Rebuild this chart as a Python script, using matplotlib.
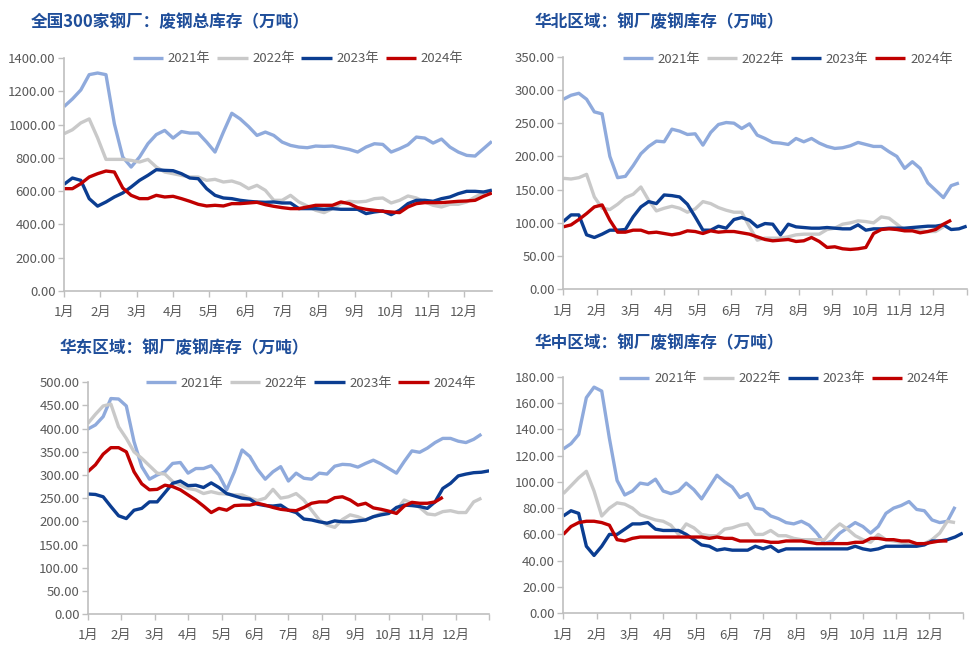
import matplotlib
matplotlib.use("Agg")
import numpy as np
import matplotlib.pyplot as plt

plt.rcParams['font.family'] = ['Noto Sans CJK SC', 'DejaVu Sans']
plt.rcParams['axes.unicode_minus'] = False

months = ['1月', '2月', '3月', '4月', '5月', '6月', '7月', '8月', '9月', '10月', '11月', '12月']
years = ['2021年', '2022年', '2023年', '2024年']

# 全国300家钢厂 废钢总库存 (weekly)
nat_2021 = [1108, 1154, 1208, 1300, 1310, 1300, 1005, 805, 745, 805, 885, 940, 965, 919, 958, 949,
            949, 895, 835, 955, 1068, 1034, 988, 935, 955, 935, 895, 875, 865, 861, 871, 869,
            871, 861, 851, 835, 865, 885, 881, 835, 855, 879, 925, 919, 889, 913, 865, 835,
            815, 811, 855, 899]
nat_2022 = [945, 969, 1010, 1034, 920, 791, 791, 791, 785, 775, 791, 745, 715, 705, 695, 685,
            685, 665, 671, 655, 661, 645, 615, 635, 605, 545, 545, 575, 535, 511, 485, 471,
            495, 525, 539, 535, 539, 555, 559, 529, 545, 571, 559, 535, 515, 505, 521, 521,
            535, 565, 589, 609]
nat_2023 = [641, 679, 665, 555, 510, 535, 565, 589, 625, 665, 695, 729, 725, 723, 705, 679,
            675, 615, 575, 559, 555, 545, 539, 535, 533, 535, 529, 529, 495, 495, 495, 491,
            495, 491, 491, 491, 465, 475, 481, 459, 485, 525, 545, 545, 539, 555, 565, 585,
            599, 599, 595, 605]
nat_2024 = [615, 615, 645, 685, 705, 721, 715, 619, 575, 555, 555, 575, 565, 569, 555, 539,
            521, 511, 515, 511, 525, 525, 529, 533, 519, 509, 501, 495, 495, 505, 515, 515,
            515, 535, 525, 501, 491, 485, 479, 475, 471, 505, 525, 531, 531, 531, 535, 539,
            541, 545, 569, 589]

# 华北区域
nc_2021 = [286, 292, 295, 286, 267, 264, 200, 168, 170, 186, 204, 215, 223, 222, 241, 238,
           233, 234, 217, 236, 248, 251, 250, 242, 249, 232, 227, 221, 220, 218, 227, 222,
           227, 220, 215, 212, 213, 216, 221, 218, 215, 215, 207, 200, 182, 192, 182, 160,
           149, 138, 156, 160]
nc_2022 = [167, 166, 168, 173, 139, 122, 120, 128, 138, 143, 154, 134, 118, 122, 125, 122,
           116, 121, 132, 129, 123, 119, 116, 116, 94, 74, 77, 77, 77, 79, 82, 83,
           83, 83, 90, 92, 98, 100, 103, 102, 100, 109, 107, 98, 89, 89, 88, 87,
           87, 94]
nc_2023 = [102, 112, 112, 82, 78, 83, 89, 89, 90, 109, 124, 132, 129, 142, 141, 139,
           128, 109, 89, 89, 95, 92, 105, 108, 104, 94, 99, 98, 82, 98, 94, 93,
           92, 92, 93, 92, 91, 91, 97, 89, 91, 91, 92, 92, 92, 93, 94, 95,
           95, 97, 90, 91, 95]
nc_2024 = [94, 97, 105, 114, 124, 127, 104, 86, 86, 89, 89, 85, 86, 84, 82, 84,
           88, 87, 84, 88, 86, 87, 87, 85, 83, 79, 75, 73, 74, 75, 72, 73,
           78, 72, 63, 64, 61, 60, 61, 63, 84, 90, 91, 90, 88, 88, 85, 87,
           90, 98, 104]

# 华东区域
ec_2021 = [399, 408, 426, 465, 464, 449, 372, 318, 291, 300, 307, 325, 327, 304, 314, 314,
           320, 300, 268, 307, 354, 340, 312, 291, 307, 318, 287, 304, 293, 291, 304, 302,
           319, 323, 322, 317, 325, 332, 324, 314, 304, 329, 352, 349, 358, 370, 379, 379,
           373, 370, 377, 388]
ec_2022 = [411, 431, 449, 453, 404, 379, 350, 336, 320, 304, 302, 286, 278, 271, 268, 260,
           264, 260, 259, 257, 257, 250, 245, 250, 269, 250, 253, 260, 246, 224, 203, 192,
           187, 204, 214, 210, 203, 210, 217, 219, 224, 246, 239, 230, 216, 214, 221, 223,
           219, 219, 242, 250]
ec_2023 = [259, 258, 253, 232, 212, 206, 224, 228, 242, 242, 262, 282, 287, 277, 278, 273,
           283, 273, 260, 255, 250, 248, 237, 234, 233, 235, 224, 219, 205, 203, 199, 196,
           201, 199, 199, 201, 203, 210, 214, 217, 230, 235, 234, 232, 228, 242, 271, 282,
           298, 302, 305, 306, 309]
ec_2024 = [307, 322, 345, 359, 359, 350, 307, 281, 268, 269, 278, 275, 268, 257, 246, 233,
           219, 228, 224, 234, 235, 235, 239, 235, 230, 226, 224, 223, 230, 239, 242, 242,
           251, 253, 246, 235, 239, 229, 226, 222, 217, 233, 241, 239, 239, 242, 252]

# 华中区域
cc_2021 = [125, 129, 136, 164, 172, 169, 133, 101, 90, 93, 99, 98, 102, 93, 91, 93,
           99, 94, 87, 96, 105, 100, 96, 88, 91, 80, 79, 74, 72, 69, 68, 70,
           67, 61, 53, 55, 61, 65, 69, 66, 61, 66, 76, 80, 82, 85, 79, 78,
           71, 69, 70, 81]
cc_2022 = [91, 97, 103, 108, 93, 74, 80, 84, 83, 80, 75, 73, 71, 70, 67, 60,
           68, 65, 60, 59, 59, 64, 65, 67, 68, 60, 60, 63, 59, 59, 57, 56,
           56, 56, 56, 63, 68, 64, 59, 56, 54, 60, 56, 55, 54, 52, 52, 53,
           56, 61, 70, 69]
cc_2023 = [74, 78, 76, 51, 44, 51, 60, 60, 64, 68, 68, 69, 64, 63, 63, 63,
           60, 56, 52, 51, 48, 49, 48, 48, 48, 51, 49, 51, 47, 49, 49, 49,
           49, 49, 49, 49, 49, 49, 51, 49, 48, 49, 51, 51, 51, 51, 51, 52,
           55, 55, 56, 58, 61]
cc_2024 = [60, 66, 69, 70, 70, 69, 67, 56, 55, 57, 58, 58, 58, 58, 58, 58,
           58, 58, 58, 57, 58, 57, 57, 55, 55, 55, 55, 54, 54, 55, 55, 55,
           54, 53, 53, 53, 53, 53, 54, 54, 57, 57, 56, 56, 55, 55, 53, 53,
           54, 55, 55]

colors = ['#8FAADC', '#C9C9C9', '#0B3D91', '#C00000']
tick_color = '#595959'
spine_color = '#BFBFBF'
title_color = '#1F4E9A'

panels = [
    dict(title='全国300家钢厂：废钢总库存（万吨）', series=[nat_2021, nat_2022, nat_2023, nat_2024],
         ymax=1400, ystep=200, xmax=51, rect=[0.0654, 0.5516, 0.437, 0.359],
         title_xy=(0.031, 0.966), leg_xy=(0.547, 0.996)),
    dict(title='华北区域：钢厂废钢库存（万吨）', series=[nc_2021, nc_2022, nc_2023, nc_2024],
         ymax=350, ystep=50, xmax=52, rect=[0.5754, 0.5542, 0.412, 0.3584],
         title_xy=(0.5465, 0.966), leg_xy=(0.556, 0.99)),
    dict(title='华东区域：钢厂废钢库存（万吨）', series=[ec_2021, ec_2022, ec_2023, ec_2024],
         ymax=500, ystep=50, xmax=52, rect=[0.0896, 0.0539, 0.410, 0.357],
         title_xy=(0.061, 0.4638), leg_xy=(0.556, 0.995)),
    dict(title='华中区域：钢厂废钢库存（万吨）', series=[cc_2021, cc_2022, cc_2023, cc_2024],
         ymax=180, ystep=20, xmax=52, rect=[0.5754, 0.055, 0.408, 0.3647],
         title_xy=(0.5465, 0.4715), leg_xy=(0.553, 0.99)),
]

fig = plt.figure(figsize=(9.79, 6.49), dpi=100)

for p in panels:
    ax = fig.add_axes(p['rect'])
    for vals, lab, c in zip(p['series'], years, colors):
        ax.plot(np.arange(len(vals)), vals, color=c, lw=2.4, label=lab, solid_capstyle='butt')
    ax.set_xlim(0, p['xmax'])
    ax.set_ylim(0, p['ymax'])
    ax.set_yticks(np.arange(0, p['ymax'] + 1, p['ystep']))
    ax.yaxis.set_major_formatter(matplotlib.ticker.FormatStrFormatter('%.2f'))
    mpos = [i * 52 / 12 for i in range(12)]
    ax.set_xticks(mpos + ([52] if p['xmax'] == 52 else []))
    ax.set_xticklabels(months + ([''] if p['xmax'] == 52 else []))
    for s in ['top', 'right']:
        ax.spines[s].set_visible(False)
    for s in ['left', 'bottom']:
        ax.spines[s].set_color(spine_color)
        ax.spines[s].set_linewidth(1.2)
    ax.tick_params(axis='both', colors=spine_color, length=4, width=1, labelsize=9.5,
                   labelcolor=tick_color)
    ax.tick_params(axis='x', pad=7)
    ax.tick_params(axis='y', pad=2)
    ax.legend(loc='center', bbox_to_anchor=p['leg_xy'], ncol=4, frameon=False, fontsize=9.5,
              handlelength=2.3, handletextpad=0.35, columnspacing=0.5, borderpad=0,
              labelcolor=tick_color)
    fig.text(p['title_xy'][0], p['title_xy'][1], p['title'], fontsize=12, fontweight='bold',
             color=title_color, ha='left', va='center')

fig.savefig('out.png', dpi=100)
